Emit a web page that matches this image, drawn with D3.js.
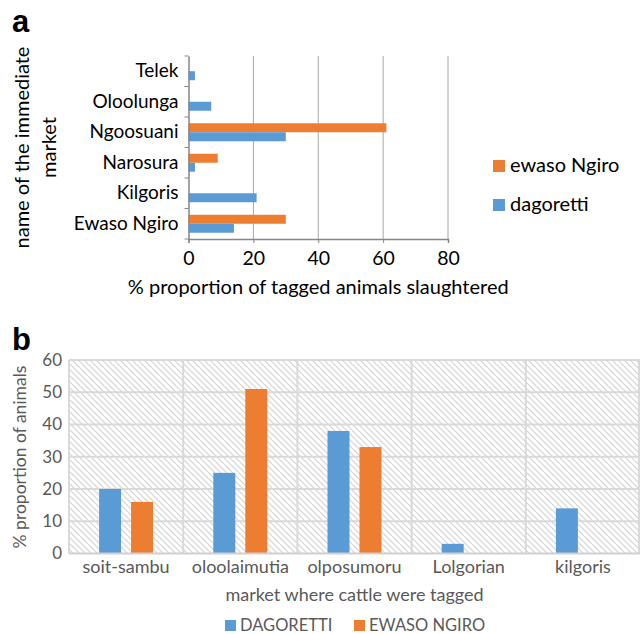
<!DOCTYPE html>
<html lang="en">
<head>
<meta charset="UTF-8">
<title>Tagged animals by market</title>
<script src="https://d3js.org/d3.v7.min.js"></script>
<style>
  body { margin: 0; background: #fff; }
  text { font-family: Lato, "Open Sans", sans-serif; }
</style>
</head>
<body>
<div id="chart"></div>
<script>
// panel a data
const marketsA = ["Telek", "Oloolunga", "Ngoosuani", "Narosura", "Kilgoris", "Ewaso Ngiro"];
const ewasoA = [0, 0, 61, 9, 0, 30];
const dagorettiA = [2, 7, 30, 2, 21, 14];
const ticksA = [0, 20, 40, 60, 80];

// panel b data
const marketsB = ["soit-sambu", "oloolaimutia", "olposumoru", "Lolgorian", "kilgoris"];
const dagorettiB = [20, 25, 38, 3, 14];
const ewasoB = [16, 51, 33, 0, 0];
const ticksB = [0, 10, 20, 30, 40, 50, 60];

const blue = "#5b9bd5", orange = "#ed7d31";

const svg = d3.select("#chart").append("svg")
  .attr("width", 641).attr("height", 634);

// hatch pattern for panel b background
const defs = svg.append("defs");
const pat = defs.append("pattern")
  .attr("id", "hatch").attr("patternUnits", "userSpaceOnUse")
  .attr("width", 6).attr("height", 6);
pat.append("path")
  .attr("d", "M0,0 L6,6 M-1,5 L1,7 M5,-1 L7,1")
  .attr("stroke", "#d4d4d4").attr("stroke-width", 1.2);

// ---------- panel a ----------
const a = svg.append("g");
a.append("text").attr("x", 12).attr("y", 32)
  .style("font-family", "Arial, 'Liberation Sans', sans-serif")
  .style("font-weight", "bold").style("font-size", "31px").text("a");

const xA = d3.scaleLinear().domain([0, 80]).range([188.5, 448]);
const yA = d3.scaleBand().domain(marketsA).range([56, 239]);
const barH = 9;

// gridlines
a.append("g").selectAll("line").data(ticksA.slice(1)).join("line")
  .attr("x1", d => xA(d)).attr("x2", d => xA(d))
  .attr("y1", 56).attr("y2", 239)
  .attr("stroke", "#a6a6a6").attr("stroke-width", 1);

// bars
a.append("g").selectAll("rect").data(marketsA).join("rect")
  .attr("x", xA(0))
  .attr("y", d => yA(d) + yA.bandwidth() / 2 - barH)
  .attr("width", (d, i) => xA(ewasoA[i]) - xA(0))
  .attr("height", barH).attr("fill", orange);
a.append("g").selectAll("rect").data(marketsA).join("rect")
  .attr("x", xA(0))
  .attr("y", d => yA(d) + yA.bandwidth() / 2)
  .attr("width", (d, i) => xA(dagorettiA[i]) - xA(0))
  .attr("height", barH).attr("fill", blue);

// x axis
const xAxisA = a.append("g").attr("transform", "translate(0,239)")
  .call(d3.axisBottom(xA).tickValues(ticksA).tickSize(4).tickPadding(8));
xAxisA.select(".domain").attr("stroke", "#868686").attr("stroke-width", 1.5);
xAxisA.selectAll(".tick line").attr("stroke", "#868686");
xAxisA.selectAll("text").style("font-size", "19.5px").attr("fill", "#000")
  .style("font-family", "Lato, 'Open Sans', sans-serif");

// y axis with ticks between categories
const yAxisA = a.append("g").attr("transform", `translate(${xA(0)},0)`)
  .call(d3.axisLeft(yA).tickSize(0).tickPadding(10));
yAxisA.select(".domain").attr("stroke", "#868686").attr("stroke-width", 1.5);
yAxisA.selectAll("text").style("font-size", "19px").attr("fill", "#000")
  .style("font-family", "Lato, 'Open Sans', sans-serif");
a.append("g").selectAll("line")
  .data(marketsA.map(m => yA(m)).concat([239]))
  .join("line")
  .attr("x1", xA(0) - 4).attr("x2", xA(0))
  .attr("y1", d => d).attr("y2", d => d)
  .attr("stroke", "#868686");

a.append("text").attr("x", (xA(0) + xA(80)) / 2).attr("y", 294)
  .attr("text-anchor", "middle").style("font-size", "20px")
  .text("% proportion of tagged animals slaughtered");

const ytA = a.append("text").attr("transform", "translate(0,147.5) rotate(-90)")
  .attr("text-anchor", "middle").style("font-size", "20px");
ytA.append("tspan").attr("x", 0).attr("y", 29).text("name of the immediate");
ytA.append("tspan").attr("x", 0).attr("y", 56).text("market");

// legend a
const legA = [{ name: "ewaso Ngiro", color: orange }, { name: "dagoretti", color: blue }];
const lgA = a.append("g").selectAll("g").data(legA).join("g")
  .attr("transform", (d, i) => `translate(493,${160 + i * 39})`);
lgA.append("rect").attr("width", 12).attr("height", 12).attr("fill", d => d.color);
lgA.append("text").attr("x", 17).attr("y", 12).style("font-size", "20px").text(d => d.name);

// ---------- panel b ----------
const b = svg.append("g");
b.append("text").attr("x", 12).attr("y", 350)
  .style("font-family", "Arial, 'Liberation Sans', sans-serif")
  .style("font-weight", "bold").style("font-size", "31px").text("b");

const xB = d3.scaleBand().domain(marketsB).range([69, 640]);
const yB = d3.scaleLinear().domain([0, 60]).range([553.5, 360]);
const grid = "#d9d9d9";

b.append("rect").attr("x", 69).attr("y", 360)
  .attr("width", 571).attr("height", 193.5).attr("fill", "url(#hatch)");

// horizontal gridlines
b.append("g").selectAll("line").data(ticksB.slice(1)).join("line")
  .attr("x1", 69).attr("x2", 640)
  .attr("y1", d => yB(d)).attr("y2", d => yB(d))
  .attr("stroke", grid).attr("stroke-width", 2);
// vertical category separators
b.append("g").selectAll("line").data(marketsB.map(m => xB(m)).concat([639]))
  .join("line")
  .attr("x1", d => d).attr("x2", d => d)
  .attr("y1", 360).attr("y2", 553.5)
  .attr("stroke", grid).attr("stroke-width", 2);

const bw = 22, gap = 10;
const off = (xB.bandwidth() - 2 * bw - gap) / 2;
b.append("g").selectAll("rect").data(marketsB).join("rect")
  .attr("x", d => xB(d) + off)
  .attr("y", (d, i) => yB(dagorettiB[i]))
  .attr("width", bw)
  .attr("height", (d, i) => yB(0) - yB(dagorettiB[i]))
  .attr("fill", blue);
b.append("g").selectAll("rect").data(marketsB).join("rect")
  .attr("x", d => xB(d) + off + bw + gap)
  .attr("y", (d, i) => yB(ewasoB[i]))
  .attr("width", bw)
  .attr("height", (d, i) => yB(0) - yB(ewasoB[i]))
  .attr("fill", orange);

// baseline
b.append("line").attr("x1", 69).attr("x2", 640)
  .attr("y1", yB(0)).attr("y2", yB(0))
  .attr("stroke", "#d0d0d0").attr("stroke-width", 2);

const xAxisB = b.append("g").attr("transform", `translate(0,${yB(0)})`)
  .call(d3.axisBottom(xB).tickSize(0).tickPadding(7));
xAxisB.select(".domain").remove();
xAxisB.selectAll("text").style("font-size", "18px").attr("fill", "#595959")
  .style("font-family", "Lato, 'Open Sans', sans-serif");

const yAxisB = b.append("g").attr("transform", "translate(69,0)")
  .call(d3.axisLeft(yB).tickValues(ticksB).tickSize(0).tickPadding(7));
yAxisB.select(".domain").remove();
yAxisB.selectAll("text").style("font-size", "17px").attr("fill", "#595959")
  .style("font-family", "Lato, 'Open Sans', sans-serif");

b.append("text").attr("x", (69 + 640) / 2).attr("y", 601)
  .attr("text-anchor", "middle").style("font-size", "18px").attr("fill", "#595959")
  .text("market where cattle were tagged");

b.append("text").attr("transform", "translate(26,457) rotate(-90)")
  .attr("text-anchor", "middle").style("font-size", "17.5px").attr("fill", "#595959")
  .text("% proportion of animals");

const legB = [{ name: "DAGORETTI", color: blue, x: 225 }, { name: "EWASO NGIRO", color: orange, x: 354 }];
const lgB = b.append("g").selectAll("g").data(legB).join("g")
  .attr("transform", d => `translate(${d.x},620)`);
lgB.append("rect").attr("width", 11).attr("height", 11).attr("fill", d => d.color);
lgB.append("text").attr("x", 15).attr("y", 11).style("font-size", "16.5px")
  .attr("fill", "#595959").text(d => d.name);
</script>
</body>
</html>
